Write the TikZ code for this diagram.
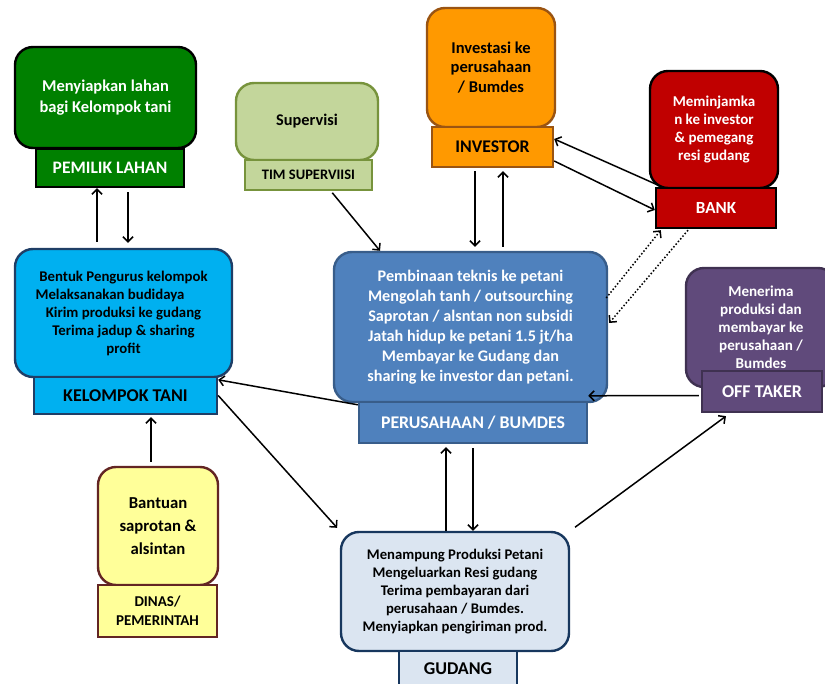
\documentclass[tikz,border=0pt]{standalone}
\usepackage{fontspec}
\setmainfont{Carlito}
\usetikzlibrary{arrows.meta}

\definecolor{plGreen}{HTML}{008000}
\definecolor{supFill}{HTML}{C3D69B}
\definecolor{supLine}{HTML}{77933C}
\definecolor{invFill}{HTML}{FF9900}
\definecolor{invLine}{HTML}{9A5412}
\definecolor{bankRed}{HTML}{C00000}
\definecolor{ktFill}{HTML}{00B0F0}
\definecolor{ktLine}{HTML}{1F3E66}
\definecolor{perFill}{HTML}{4F81BD}
\definecolor{perLine}{HTML}{385D8A}
\definecolor{otFill}{HTML}{604A7B}
\definecolor{otLine}{HTML}{3F3151}
\definecolor{dinFill}{HTML}{FFFF99}
\definecolor{dinLine}{HTML}{632523}
\definecolor{gudFill}{HTML}{DBE5F1}
\definecolor{gudLine}{HTML}{17375E}

\begin{document}
\begin{tikzpicture}[
    x=1pt, y=-1pt,
    body/.style={draw, rounded corners=18pt, line width=2.4pt, align=center, inner sep=0pt},
    tag/.style={draw, line width=2.4pt, align=center, inner sep=0pt},
    arr/.style={-{Straight Barb[length=5pt,width=10pt]}, line width=1.5pt},
    fs/.style 2 args={font=\bfseries\fontsize{#1}{#2}\selectfont}
]
    \useasboundingbox (0,0) rectangle (825,684);

    % 1. Define the nodes
    % Pemilik lahan
    \node[body, fill=plGreen, text=white, minimum width=181, minimum height=101, fs={16.5}{21}] (plbody) at (105.5,97.5) {Menyiapkan lahan\\bagi Kelompok tani};
    \node[tag, fill=plGreen, text=white, minimum width=148, minimum height=38, fs={17.5}{18}] (pltag) at (110,168) {PEMILIK LAHAN};

    % Tim supervisi
    \node[body, draw=supLine, fill=supFill, minimum width=142, minimum height=77, fs={16.3}{18}] (timbody) at (307,121.5) {Supervisi};
    \node[tag, draw=supLine, fill=supFill, minimum width=127, minimum height=30, fs={14.5}{15}] (timtag) at (308.5,175) {TIM SUPERVIISI};

    % Investor
    \node[body, draw=invLine, fill=invFill, minimum width=128, minimum height=119, fs={16.5}{19.5}] (invbody) at (491,67.5) {Investasi ke\\perusahaan\\/ Bumdes};
    \node[tag, draw=invLine, fill=invFill, minimum width=121, minimum height=40, fs={17.8}{18}] (invtag) at (492.5,147) {INVESTOR};

    % Bank
    \node[body, fill=bankRed, text=white, minimum width=128, minimum height=117, fs={15}{18}] (bankbody) at (714,129.5) {Meminjamka\\n ke investor\\\& pemegang\\resi gudang};
    \node[tag, fill=bankRed, text=white, minimum width=120, minimum height=40, fs={17}{18}] (banktag) at (716,208) {BANK};

    % Kelompok tani
    \node[body, draw=ktLine, fill=ktFill, minimum width=217, minimum height=128, fs={14.8}{18}] (ktbody) at (123.5,313) {Bentuk Pengurus kelompok\\Melaksanakan budidaya\hspace{27pt}\mbox{}\\Kirim produksi ke gudang\\Terima jadup \& sharing\\profit};
    \node[tag, draw=ktLine, fill=ktFill, minimum width=183, minimum height=37, fs={18}{18}] (kttag) at (125.5,395.5) {KELOMPOK TANI};

    % Perusahaan / Bumdes
    \node[body, draw=perLine, fill=perFill, text=white, minimum width=273, minimum height=150, fs={16.2}{20}] (perbody) at (470.5,327) {Pembinaan teknis ke petani\\Mengolah tanh / outsourching\\Saprotan / alsntan non subsidi\\Jatah hidup ke petani 1.5 jt/ha\\Membayar ke Gudang dan\\sharing ke investor dan petani.};
    \node[tag, draw=perLine, fill=perFill, text=white, minimum width=228, minimum height=41, fs={17.8}{18}] (pertag) at (473,422.5) {PERUSAHAAN / BUMDES};

    % Off taker
    \node[body, draw=otLine, fill=otFill, text=white, minimum width=150, minimum height=119, fs={15.1}{18}] (otbody) at (761,327.5) {Menerima\\produksi dan\\membayar ke\\perusahaan /\\Bumdes};
    \node[tag, draw=otLine, fill=otFill, text=white, minimum width=120, minimum height=41, fs={18}{18}] (ottag) at (762,391.5) {OFF TAKER};

    % Dinas / pemerintah
    \node[body, draw=dinLine, fill=dinFill, minimum width=120, minimum height=118, fs={16.7}{23}] (dinbody) at (158,526) {Bantuan\\saprotan \&\\alsintan};
    \node[tag, draw=dinLine, fill=dinFill, minimum width=119, minimum height=52, fs={15}{19}] (dintag) at (157.5,611) {DINAS/\\PEMERINTAH};

    % Gudang
    \node[body, draw=gudLine, fill=gudFill, minimum width=228, minimum height=119, fs={14.7}{18}] (gudbody) at (455,591.5) {Menampung Produksi Petani\\Mengeluarkan Resi gudang\\Terima pembayaran dari\\perusahaan / Bumdes.\\Menyiapkan pengiriman prod.};
    \node[tag, draw=gudLine, fill=gudFill, minimum width=118, minimum height=36, fs={18}{18}] (gudtag) at (458,669) {GUDANG};

    % 2. Draw the arrows

    % Kelompok tani <-> Pemilik lahan
    \draw[arr, shorten <=6pt] ([xshift=-26.5pt]ktbody.north) -- ([xshift=-13pt]pltag.south);
    \draw[arr, shorten <=4pt, shorten >=5pt] ([xshift=18pt]pltag.south) -- ([xshift=4.5pt]ktbody.north);

    % Tim supervisi -> Perusahaan
    \draw[arr, shorten <=2pt] ([xshift=22.5pt]timtag.south) -- ([xshift=-90.5pt]perbody.north);

    % Investor <-> Perusahaan
    \draw[arr, shorten <=3pt, shorten >=4pt] ([xshift=-17.5pt]invtag.south) -- ([xshift=4.5pt]perbody.north);
    \draw[arr, shorten <=4pt, shorten >=3pt] ([xshift=32.5pt]perbody.north) -- ([xshift=10.5pt]invtag.south);

    % Bank <-> Investor
    \draw[arr] ([xshift=7pt]banktag.north west) -- ([yshift=8pt]invtag.east);
    \draw[arr] ([yshift=-14pt]invtag.east) -- ([yshift=-2pt]banktag.west);

    % Perusahaan <-> Bank (dotted)
    \draw[arr, dotted] ([xshift=-2pt, yshift=29pt]perbody.east) -- ([xshift=6pt, yshift=-1pt]banktag.south west);
    \draw[arr, dotted] ([xshift=-28pt, yshift=-1pt]banktag.south) -- ([xshift=1pt, yshift=4pt]perbody.east);

    % Perusahaan -> Kelompok tani
    \draw[arr] ([yshift=-4pt]pertag.north west) -- ([yshift=-4pt]kttag.north east);

    % Kelompok tani -> Gudang
    \draw[arr, shorten >=4pt] (kttag.east) -- (gudbody.north west);

    % Dinas -> Kelompok tani
    \draw[arr, shorten <=4pt, shorten >=2pt] ([xshift=-7pt]dinbody.north) -- ([xshift=25.5pt]kttag.south);

    % Gudang <-> Perusahaan
    \draw[arr, shorten >=3pt] ([xshift=-9pt]gudbody.north) -- ([xshift=-27pt]pertag.south);
    \draw[arr, shorten <=4pt] (pertag.south) -- ([xshift=18pt]gudbody.north);

    % Gudang -> Off taker
    \draw[arr, shorten <=6pt, shorten >=5pt] (gudbody.north east) -- ([xshift=-32pt]ottag.south);

    % Off taker -> Perusahaan
    \draw[arr, shorten <=2pt] ([yshift=-4pt]ottag.west) -- ([yshift=5pt]pertag.north east);

\end{tikzpicture}
\end{document}
